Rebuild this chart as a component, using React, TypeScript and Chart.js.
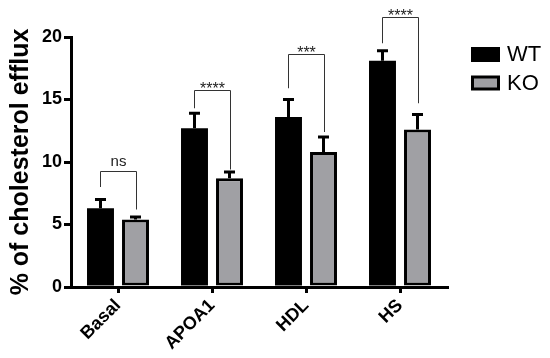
import React, { useEffect, useRef } from "react";
import { Chart, registerables } from "chart.js";

Chart.register(...registerables);

const categories = ["Basal", "APOA1", "HDL", "HS"];
const wtMeans = [6.3, 12.7, 13.6, 18.1];
const wtErr = [0.7, 1.2, 1.4, 0.8];
const koMeans = [5.4, 8.7, 10.8, 12.6];
const koErr = [0.2, 0.5, 1.2, 1.2];
const sigLabels = ["ns", "****", "***", "****"];
const bracketTop = [9.3, 15.8, 18.6, 21.6];
const bracketLeftEnd = [8.0, 14.3, 15.9, 19.5];
const bracketRightEnd = [6.2, 9.4, 12.4, 14.7];
const yTicks = [0, 5, 10, 15, 20];

const FONT = "Arial, 'Liberation Sans', sans-serif";

const annotPlugin = {
  id: "annot",
  afterDatasetsDraw(chart: any) {
    const ctx = chart.ctx;
    const ys = chart.scales.y;
    const m0 = chart.getDatasetMeta(0);
    const m1 = chart.getDatasetMeta(1);
    ctx.save();
    const sets: [any, number[], number[]][] = [
      [m0, wtMeans, wtErr],
      [m1, koMeans, koErr],
    ];
    ctx.strokeStyle = "#000";
    ctx.lineWidth = 3;
    sets.forEach(([meta, means, errs]) => {
      meta.data.forEach((bar: any, i: number) => {
        const x = bar.x;
        const y0 = ys.getPixelForValue(means[i]);
        const y1 = ys.getPixelForValue(means[i] + errs[i]);
        ctx.beginPath();
        ctx.moveTo(x, y0);
        ctx.lineTo(x, y1);
        ctx.moveTo(x - 5.5, y1);
        ctx.lineTo(x + 5.5, y1);
        ctx.stroke();
      });
    });
    ctx.strokeStyle = "#333";
    ctx.lineWidth = 1;
    ctx.fillStyle = "#222";
    ctx.textAlign = "center";
    ctx.textBaseline = "bottom";
    categories.forEach((_, i) => {
      const xl = Math.round(m0.data[i].x) + 0.5;
      const xr = Math.round(m1.data[i].x) + 0.5;
      const yt = Math.round(ys.getPixelForValue(bracketTop[i])) + 0.5;
      const yl = ys.getPixelForValue(bracketLeftEnd[i]);
      const yr = ys.getPixelForValue(bracketRightEnd[i]);
      ctx.beginPath();
      ctx.moveTo(xl, yl);
      ctx.lineTo(xl, yt);
      ctx.lineTo(xr, yt);
      ctx.lineTo(xr, yr);
      ctx.stroke();
      const isNs = sigLabels[i] === "ns";
      ctx.font = (isNs ? "15px " : "16px ") + FONT;
      ctx.fillText(sigLabels[i], (xl + xr) / 2, yt + (isNs ? -2 : 7));
    });
    const lx = chart.chartArea.right + 24;
    chart.data.datasets.forEach((ds: any, i: number) => {
      const top = 47 + i * 28.5;
      ctx.fillStyle = "#000";
      ctx.fillRect(lx, top, 29, 15);
      if (ds.borderWidth) {
        ctx.fillStyle = ds.backgroundColor;
        ctx.fillRect(lx + 3, top + 3, 23, 9);
      }
      ctx.fillStyle = "#000";
      ctx.font = "22px " + FONT;
      ctx.textAlign = "left";
      ctx.textBaseline = "middle";
      ctx.fillText(ds.label, lx + 36, top + 8);
    });
    ctx.restore();
  },
};

export default function App() {
  const ref = useRef<HTMLCanvasElement>(null);
  useEffect(() => {
    document.body.style.margin = "0";
    const chart = new Chart(ref.current as HTMLCanvasElement, {
      type: "bar",
      data: {
        labels: categories,
        datasets: [
          {
            label: "WT",
            data: wtMeans,
            backgroundColor: "#000000",
            borderWidth: 0,
            categoryPercentage: 0.745,
            barPercentage: 0.77,
          },
          {
            label: "KO",
            data: koMeans,
            backgroundColor: "#a0a0a4",
            borderColor: "#000000",
            borderWidth: 3,
            borderSkipped: false,
            categoryPercentage: 0.745,
            barPercentage: 0.77,
          },
        ],
      },
      options: {
        animation: false,
        responsive: true,
        maintainAspectRatio: false,
        layout: { padding: { top: 37, right: 103, left: 0, bottom: 0 } },
        plugins: { legend: { display: false }, tooltip: { enabled: false } },
        scales: {
          x: {
            offset: true,
            grid: {
              offset: false,
              display: true,
              drawOnChartArea: false,
              drawTicks: true,
              tickLength: 6,
              lineWidth: 3,
              color: "#000",
            },
            border: { display: true, width: 3, color: "#000" },
            ticks: {
              color: "#000",
              font: { family: FONT, size: 18, weight: "bold" },
              maxRotation: 45,
              minRotation: 45,
              padding: 2,
            },
            afterFit: (s: any) => {
              s.height = 71;
            },
          },
          y: {
            min: 0,
            max: 20,
            afterBuildTicks: (s: any) => {
              s.ticks = yTicks.map((v) => ({ value: v }));
            },
            grid: {
              display: true,
              drawOnChartArea: false,
              drawTicks: true,
              tickLength: 7,
              lineWidth: 3,
              color: "#000",
            },
            border: { display: true, width: 3, color: "#000" },
            ticks: {
              color: "#000",
              font: { family: FONT, size: 18, weight: "bold" },
              padding: 2,
            },
            title: {
              display: true,
              text: "% of cholesterol efflux",
              color: "#000",
              font: { family: FONT, size: 25, weight: "bold" },
              padding: { top: 6, bottom: 0 },
            },
            afterFit: (s: any) => {
              s.width = 71;
            },
          },
        },
      },
      plugins: [annotPlugin],
    });
    return () => chart.destroy();
  }, []);
  return (
    <div style={{ width: 550, height: 358, position: "relative" }}>
      <canvas ref={ref} />
    </div>
  );
}
